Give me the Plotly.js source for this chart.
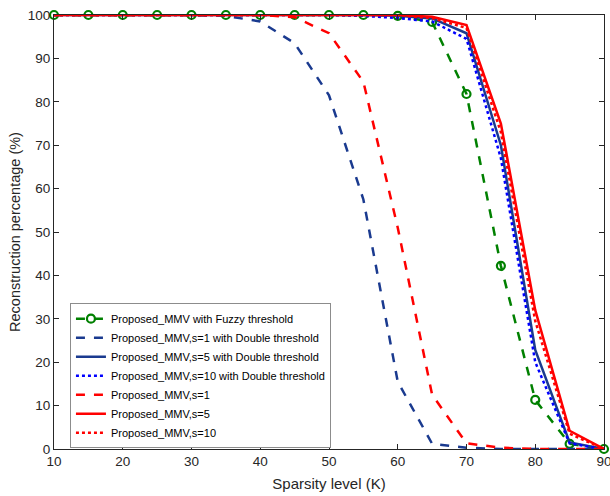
<!DOCTYPE html>
<html>
<head>
<meta charset="utf-8">
<script src="https://cdn.plot.ly/plotly-3.0.1.min.js"></script>
<style>html,body{margin:0;padding:0;background:#fff;}#chart{width:610px;height:496px;}</style>
</head>
<body>
<div id="chart"></div>
<script>
const sparsity = [10,15,20,25,30,35,40,45,50,55,60,65,70,75,80,85,90];
const fuzzy      = [100,100,100,100,100,100,100,100,100,100,99.8,98.4,81.8,42.2,11.3,1.2,0];
const dbl_s1     = [100,100,100,100,100,99.8,98.5,93.5,81.5,57.5,15.5,1.2,0.3,0,0,0,0];
const dbl_s5     = [100,100,100,100,100,100,100,100,100,100,99.8,99.2,95.8,70,22.8,1.5,0];
const dbl_s10    = [100,100,100,100,100,100,100,100,100,99.8,99.3,98.5,94.5,67,20,1.3,0];
const mmv_s1     = [100,100,100,100,100,100,100,99.5,95.8,84.6,51,12.5,1.3,0.3,0,0,0];
const mmv_s5     = [100,100,100,100,100,100,100,100,100,100,100,99.6,97.7,75,32,4.2,0];
const mmv_s10    = [100,100,100,100,100,100,100,100,100,100,100,99.3,97,73,29.5,3.5,0];
const names = [
  "Proposed_MMV with Fuzzy threshold",
  "Proposed_MMV,s=1 with Double threshold",
  "Proposed_MMV,s=5 with Double threshold",
  "Proposed_MMV,s=10 with Double threshold",
  "Proposed_MMV,s=1",
  "Proposed_MMV,s=5",
  "Proposed_MMV,s=10"
];
const xTicks = [10,20,30,40,50,60,70,80,90];
const yTicks = [0,10,20,30,40,50,60,70,80,90,100];

const green = "#008000", navy = "#1a3a8f", blue = "#0000ff", red = "#ff0000";
const traces = [
  {y: fuzzy, name: names[0], mode: "lines+markers", line:{color:green, width:2.5, dash:"dash"},
   marker:{symbol:"circle-open", size:8, color:green, line:{width:2.2, color:green}}},
  {y: dbl_s1, name: names[1], mode: "lines", line:{color:navy, width:2.5, dash:"dash"}},
  {y: dbl_s5, name: names[2], mode: "lines", line:{color:navy, width:2.5}},
  {y: dbl_s10, name: names[3], mode: "lines", line:{color:blue, width:2.5, dash:"dot"}},
  {y: mmv_s1, name: names[4], mode: "lines", line:{color:red, width:2.5, dash:"dash"}},
  {y: mmv_s5, name: names[5], mode: "lines", line:{color:red, width:2.5}},
  {y: mmv_s10, name: names[6], mode: "lines", line:{color:red, width:2.5, dash:"dot"}}
].map(t => Object.assign({x: sparsity, type: "scatter", cliponaxis: false}, t));

const axisCommon = {
  showline: true, linecolor: "#262626", linewidth: 1, mirror: "ticks",
  ticks: "inside", ticklen: 5, tickcolor: "#262626", showgrid: false, zeroline: false,
  ticklabeloverflow: "allow",
  tickfont: {family: "Liberation Sans, Arial, sans-serif", size: 13.5, color: "#262626"}
};
const layout = {
  width: 610, height: 496,
  margin: {l: 54, r: 6, t: 15, b: 47},
  paper_bgcolor: "#fff", plot_bgcolor: "#fff",
  showlegend: true,
  xaxis: Object.assign({}, axisCommon, {range: [10, 90], tickvals: xTicks,
    title: {text: "Sparsity level (K)", standoff: 10, font: {family: "Liberation Sans, Arial, sans-serif", size: 15, color: "#262626"}}}),
  yaxis: Object.assign({}, axisCommon, {range: [0, 100], tickvals: yTicks,
    title: {text: "Reconstruction percentage (%)", standoff: 3, font: {family: "Liberation Sans, Arial, sans-serif", size: 14.5, color: "#262626"}}}),
  legend: {x: 0.029, y: 0.336, xanchor: "left", yanchor: "top",
    bgcolor: "#fff", bordercolor: "#8c8c8c", borderwidth: 1, tracegroupgap: 0,
    font: {family: "Liberation Sans, Arial, sans-serif", size: 11, color: "#000"}}
};
Plotly.newPlot("chart", traces, layout, {displayModeBar: false, staticPlot: true});
</script>
</body>
</html>
